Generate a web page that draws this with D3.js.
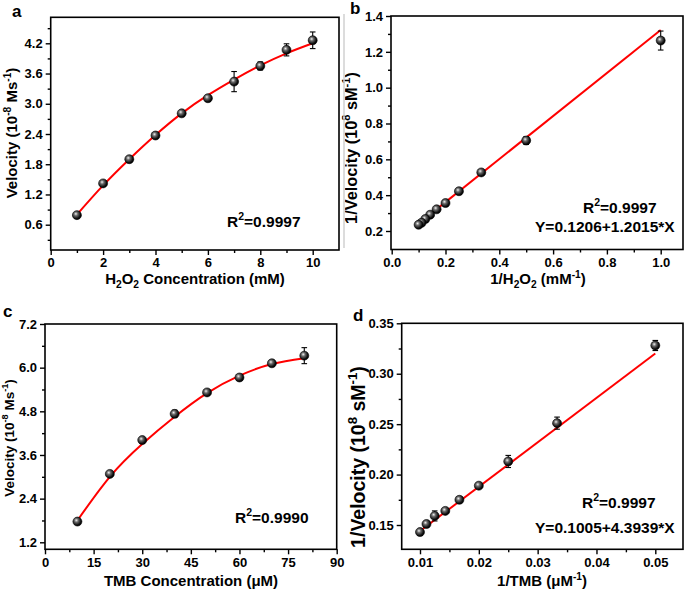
<!DOCTYPE html>
<html><head><meta charset="utf-8">
<script src="https://cdn.jsdelivr.net/npm/d3@7"></script>
<style>
body{margin:0;background:#fff}
svg{display:block}
text{font-family:"Liberation Sans",Arial,sans-serif;font-weight:bold;fill:#000}
</style>
</head><body>
<svg id="chart" width="685" height="594"></svg>
<script>
// ---------- Panel a : Velocity vs H2O2 ----------
const aX    = [1, 2, 3, 4, 5, 6, 7, 8, 9, 10];
const aY    = [0.79, 1.42, 1.90, 2.37, 2.81, 3.11, 3.44, 3.75, 4.07, 4.26];
const aErr  = [0.03, 0.03, 0.03, 0.03, 0.03, 0.04, 0.20, 0.08, 0.12, 0.165];
const aFitX = [1, 2, 3, 4, 5, 6, 7, 8, 9, 10];
const aFitY = [0.80, 1.38, 1.90, 2.38, 2.81, 3.17, 3.48, 3.76, 4.00, 4.20];
const aXTicks = [0, 2, 4, 6, 8, 10];
const aXMinor = [1, 3, 5, 7, 9];
const aYTicks = [0.6, 1.2, 1.8, 2.4, 3.0, 3.6, 4.2];
const aYMinor = [0.3, 0.9, 1.5, 2.1, 2.7, 3.3, 3.9, 4.5];

// ---------- Panel b : Lineweaver-Burk H2O2 ----------
const bX    = [1.0, 0.5, 0.333, 0.25, 0.2, 0.167, 0.143, 0.125, 0.111, 0.1];
const bY    = [1.263, 0.705, 0.527, 0.422, 0.356, 0.321, 0.291, 0.267, 0.246, 0.235];
const bErr  = [0.053, 0.022, 0.008, 0.008, 0.008, 0.006, 0.006, 0.005, 0.005, 0.005];
const bFitX = [0.1, 1.0];
const bFitY = [0.241, 1.322];
const bXTicks = [0, 0.2, 0.4, 0.6, 0.8, 1.0];
const bXMinor = [0.1, 0.3, 0.5, 0.7, 0.9];
const bYTicks = [0.2, 0.4, 0.6, 0.8, 1.0, 1.2, 1.4];
const bYMinor = [0.3, 0.5, 0.7, 0.9, 1.1, 1.3];

// ---------- Panel c : Velocity vs TMB ----------
const cX    = [10, 20, 30, 40, 50, 60, 70, 80];
const cY    = [1.77, 3.08, 4.01, 4.73, 5.32, 5.73, 6.12, 6.33];
const cErr  = [0.04, 0.04, 0.05, 0.10, 0.05, 0.08, 0.05, 0.22];
const cFitX = [10, 20, 30, 40, 50, 60, 70, 80];
const cFitY = [1.80, 3.00, 3.90, 4.65, 5.30, 5.78, 6.10, 6.26];
const cXTicks = [0, 15, 30, 45, 60, 75, 90];
const cXMinor = [7.5, 22.5, 37.5, 52.5, 67.5, 82.5];
const cYTicks = [1.2, 2.4, 3.6, 4.8, 6.0, 7.2];
const cYMinor = [1.8, 3.0, 4.2, 5.4, 6.6];

// ---------- Panel d : Lineweaver-Burk TMB ----------
const dX    = [0.05, 0.0333, 0.025, 0.02, 0.0167, 0.0143, 0.0125, 0.0111, 0.01];
const dY    = [0.328, 0.251, 0.213, 0.189, 0.175, 0.164, 0.159, 0.151, 0.143];
const dErr  = [0.005, 0.006, 0.006, 0.002, 0.003, 0.002, 0.005, 0.002, 0.002];
const dFitX = [0.01, 0.05];
const dFitY = [0.144, 0.320];
const dXTicks = [0.01, 0.02, 0.03, 0.04, 0.05];
const dXMinor = [0.015, 0.025, 0.035, 0.045];
const dYTicks = [0.15, 0.20, 0.25, 0.30, 0.35];
const dYMinor = [0.175, 0.225, 0.275, 0.325];

// text pieces: [text, kind] kind: n normal, sup, sub
const titles = {
  a: {x: [["H","n"],["2","sub"],["O","n"],["2","sub"],[" Concentration (mM)","n"]],
      y: [["Velocity (10","n"],["-8","sup"],[" Ms","n"],["-1","sup"],[")","n"]],
      r: [["R","n"],["2","sup"],["=0.9997","n"]], eq: null},
  b: {x: [["1/H","n"],["2","sub"],["O","n"],["2","sub"],[" (mM","n"],["-1","sup"],[")","n"]],
      y: [["1/Velocity (10","n"],["8","sup"],[" sM","n"],["-1","sup"],[")","n"]],
      r: [["R","n"],["2","sup"],["=0.9997","n"]], eq: "Y=0.1206+1.2015*X"},
  c: {x: [["TMB Concentration (\u03bcM)","n"]],
      y: [["Velocity (10","n"],["-8","sup"],[" Ms","n"],["-1","sup"],[")","n"]],
      r: [["R","n"],["2","sup"],["=0.9990","n"]], eq: null},
  d: {x: [["1/TMB (\u03bcM","n"],["-1","sup"],[")","n"]],
      y: [["1/Velocity (10","n"],["8","sup"],[" sM","n"],["-1","sup"],[")","n"]],
      r: [["R","n"],["2","sup"],["=0.9997","n"]], eq: "Y=0.1005+4.3939*X"}
};

const svg = d3.select("#chart");
const defs = svg.append("defs");
const grad = defs.append("radialGradient").attr("id","ball")
  .attr("cx","0.4").attr("cy","0.4").attr("r","0.6").attr("fx","0.38").attr("fy","0.35");
grad.append("stop").attr("offset","0").attr("stop-color","#f2f2f2");
grad.append("stop").attr("offset","0.35").attr("stop-color","#6a6a6a");
grad.append("stop").attr("offset","0.8").attr("stop-color","#111");
grad.append("stop").attr("offset","1").attr("stop-color","#000");

function richText(sel, parts, size){
  let off = 0;
  parts.forEach(([t,k])=>{
    const ts = sel.append("tspan").text(t);
    const want = k==="sup" ? -size*0.42 : (k==="sub" ? size*0.25 : 0);
    ts.attr("font-size", k==="n" ? size : size*0.68).attr("dy", want - off);
    off = want;
  });
}

function panel(p){
  const g = svg.append("g");
  const x = d3.scaleLinear().domain(p.xRef).range(p.xPix);
  const y = d3.scaleLinear().domain(p.yRef).range(p.yPix);
  const [L,R,T,B] = p.frame;
  const fmtX = d3.format(p.xFmt), fmtY = d3.format(p.yFmt);

  const xAx = g.append("g").attr("transform",`translate(0,${B})`)
    .call(d3.axisBottom(x).tickValues(p.xTicks).tickFormat(fmtX).tickSize(5).tickPadding(3).tickSizeOuter(0));
  const xMin = g.append("g").attr("transform",`translate(0,${B})`)
    .call(d3.axisBottom(x).tickValues(p.xMinor).tickFormat("").tickSize(3).tickSizeOuter(0));
  const yAx = g.append("g").attr("transform",`translate(${L},0)`)
    .call(d3.axisLeft(y).tickValues(p.yTicks).tickFormat(fmtY).tickSize(5).tickPadding(3).tickSizeOuter(0));
  const yMin = g.append("g").attr("transform",`translate(${L},0)`)
    .call(d3.axisLeft(y).tickValues(p.yMinor).tickFormat("").tickSize(3).tickSizeOuter(0));
  [xAx,xMin,yAx,yMin].forEach(a=>{
    a.select(".domain").remove();
    a.selectAll("line").attr("stroke","#000").attr("stroke-width",1.4);
    a.selectAll("text").attr("font-size",13).attr("font-family","Liberation Sans, Arial, sans-serif").attr("font-weight","bold").attr("fill","#000");
  });

  g.append("rect").attr("x",L).attr("y",T).attr("width",R-L).attr("height",B-T)
    .attr("fill","none").attr("stroke","#000").attr("stroke-width",1.6);

  const line = d3.line().x(d=>x(d[0])).y(d=>y(d[1])).curve(d3.curveNatural);
  g.append("path").datum(p.fitX.map((v,i)=>[v,p.fitY[i]]))
    .attr("d",line).attr("fill","none").attr("stroke","#ff0000").attr("stroke-width",2);

  const pts = p.px.map((v,i)=>({x:v,y:p.py[i],e:p.pe[i]}));
  const eb = g.append("g").attr("stroke","#000").attr("stroke-width",1.1);
  pts.forEach(d=>{
    const cx=x(d.x), y1=y(d.y+d.e), y2=y(d.y-d.e);
    eb.append("line").attr("x1",cx).attr("x2",cx).attr("y1",y1).attr("y2",y2);
    eb.append("line").attr("x1",cx-2.8).attr("x2",cx+2.8).attr("y1",y1).attr("y2",y1);
    eb.append("line").attr("x1",cx-2.8).attr("x2",cx+2.8).attr("y1",y2).attr("y2",y2);
  });
  g.append("g").selectAll("circle").data(pts).join("circle")
    .attr("cx",d=>x(d.x)).attr("cy",d=>y(d.y)).attr("r",4.5)
    .attr("fill","url(#ball)").attr("stroke","#000").attr("stroke-width",0.6);

  const t = titles[p.id];
  richText(g.append("text").attr("x",p.xt[0]).attr("y",p.xt[1]).attr("text-anchor","middle"), t.x, 15);
  richText(g.append("text").attr("transform",`translate(${p.yt[0]},${p.yt[1]}) rotate(-90)`).attr("text-anchor","middle"), t.y, p.ytSize);
  richText(g.append("text").attr("x",p.rt[0]).attr("y",p.rt[1]), t.r, 15.5);
  if(t.eq) g.append("text").attr("x",p.et[0]).attr("y",p.et[1]).attr("font-size",15.5).text(t.eq);
  g.append("text").attr("x",p.lab[0]).attr("y",p.lab[1]).attr("font-size",17).text(p.id);
}

panel({id:"a", xRef:[0,10], xPix:[50.7,312.7], yRef:[0.6,4.2], yPix:[224.7,43.3],
  frame:[50.7,339,17.3,250], xFmt:"d", yFmt:".1f",
  xTicks:aXTicks, xMinor:aXMinor, yTicks:aYTicks, yMinor:aYMinor,
  px:aX, py:aY, pe:aErr, fitX:aFitX, fitY:aFitY,
  xt:[195,284], yt:[17,133], ytSize:15, rt:[227,227], et:null, lab:[12,17]});

panel({id:"b", xRef:[0,1], xPix:[391.7,660.7], yRef:[0.2,1.4], yPix:[231,16],
  frame:[391,683,16,249.5], xFmt:".1f", yFmt:".1f",
  xTicks:bXTicks, xMinor:bXMinor, yTicks:bYTicks, yMinor:bYMinor,
  px:bX, py:bY, pe:bErr, fitX:bFitX, fitY:bFitY,
  xt:[538,284], yt:[357,148], ytSize:16.3, rt:[583,213], et:[535,232], lab:[350,14]});

panel({id:"c", xRef:[0,90], xPix:[45,336.7], yRef:[1.2,7.2], yPix:[542.3,324],
  frame:[45,336.7,324,549.3], xFmt:"d", yFmt:".1f",
  xTicks:cXTicks, xMinor:cXMinor, yTicks:cYTicks, yMinor:cYMinor,
  px:cX, py:cY, pe:cErr, fitX:cFitX, fitY:cFitY,
  xt:[191,586], yt:[14,438], ytSize:13.5, rt:[235,523], et:null, lab:[3,317]});

panel({id:"d", xRef:[0.01,0.05], xPix:[420,655.3], yRef:[0.15,0.35], yPix:[525,323.3],
  frame:[401.7,683,323.3,549.3], xFmt:".2f", yFmt:".2f",
  xTicks:dXTicks, xMinor:dXMinor, yTicks:dYTicks, yMinor:dYMinor,
  px:dX, py:dY, pe:dErr, fitX:dFitX, fitY:dFitY,
  xt:[542,586], yt:[365,457], ytSize:19.5, rt:[582,508], et:[535,533], lab:[353,321]});

svg.append("line").attr("x1",344).attr("x2",344).attr("y1",14).attr("y2",248)
  .attr("stroke","#d0d0d0").attr("stroke-width",1.5);
</script>
</body></html>
